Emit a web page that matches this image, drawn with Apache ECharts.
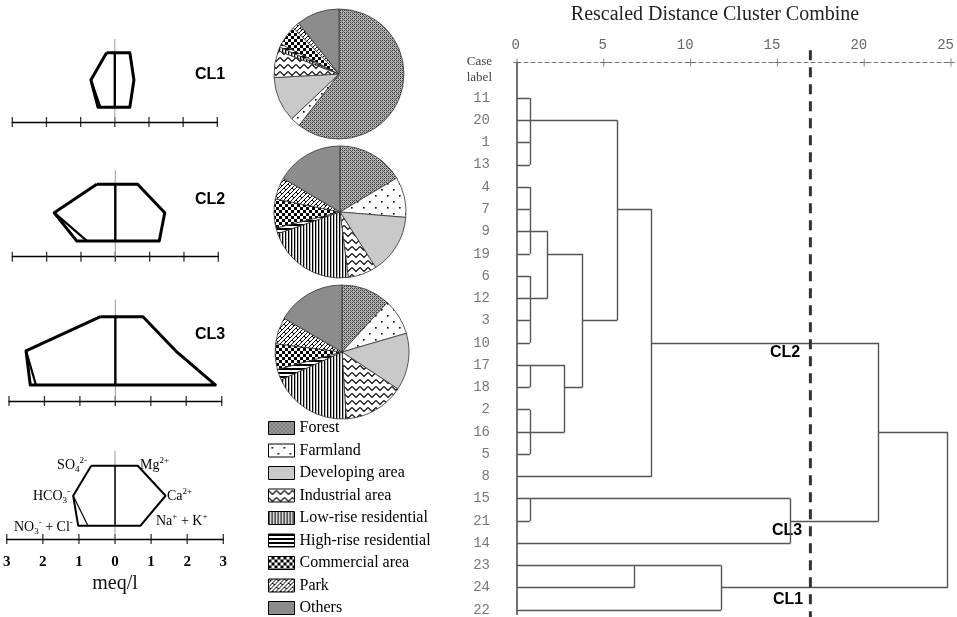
<!DOCTYPE html>
<html><head><meta charset="utf-8">
<script src="https://cdn.jsdelivr.net/npm/echarts@6/dist/echarts.min.js"></script>
<style>html,body{margin:0;padding:0;background:#fff}#c{width:957px;height:617px}</style>
</head><body><div id="c"></div>
<script>
// ---------- DATA ----------
// Stiff diagrams (meq/l): anions [SO4, HCO3, NO3+Cl], cations [Mg, Ca, Na+K], inner = second bottom-left vertex
const cl1Anions = [0.24, 0.70, 0.49];
const cl1Cations = [0.44, 0.56, 0.44];
const cl1Inner = 0.42;
const cl2Anions = [0.54, 1.78, 1.12];
const cl2Cations = [0.65, 1.44, 1.28];
const cl2Inner = 0.82;
const cl3Anions = [0.42, 2.52, 2.40];
const cl3Cations = [0.78, 1.70, 2.82];
const cl3Inner = 2.24;
const keyAnions = [0.66, 1.16, 1.02];
const keyCations = [0.63, 1.40, 0.70];
const keyInner = 0.75;
const meqTicks = [-3, -2, -1, 0, 1, 2, 3];

// Land use shares (%)
const landUse = ['Forest','Farmland','Developing area','Industrial area','Low-rise residential','High-rise residential','Commercial area','Park','Others'];
const cl1Share = [60.6, 2.4, 11.2, 6.7, 1.0, 0.8, 5.0, 1.7, 10.7];
const cl2Share = [16.4, 9.9, 14.6, 7.1, 21.7, 1.4, 7.1, 5.3, 16.5];
const cl3Share = [11.8, 8.7, 13.8, 14.7, 19.2, 2.6, 6.2, 6.4, 16.6];

// Dendrogram
const caseLabels = ['11','20','1','13','4','7','9','19','6','12','3','10','17','18','2','16','5','8','15','21','14','23','24','22'];
// internal nodes numbered 24.. ; children refer to leaf rows (0-23) or internal node ids
const mergeChildren = [[0,1,2,3],[4,5,6,7],[8,9,10,11],[25,26],[12,13],[14,15,16],[28,29],[27,30],[24,31],[32,17],[18,19],[34,20],[33,35],[21,22],[37,23],[36,38]];
const mergeDistance = [0.74, 0.74, 0.74, 1.77, 0.74, 0.74, 2.74, 3.77, 5.76, 7.76, 0.74, 15.75, 20.83, 6.77, 11.76, 24.81];
const mergeRow = [1, 6, 9, 7, 12, 15, 13, 10, 5, 11, 18, 19, 15, 21, 22, null];
const distTicks = [0, 5, 10, 15, 20, 25];
const cutDistance = 16.9;

// ---------- BUILD ----------
function pat(w,h,draw){const c=document.createElement('canvas');c.width=w;c.height=h;const g=c.getContext('2d');g.fillStyle='#fff';g.fillRect(0,0,w,h);draw(g);return {image:c,repeat:'repeat'};}
const fills = [
  pat(4,4,g=>{g.fillStyle='#b4b4b4';g.fillRect(0,0,4,4);g.fillStyle='#3a3a3a';g.fillRect(0,0,1,1);g.fillRect(2,2,1,1);g.fillRect(2,0,1,1);g.fillRect(0,2,1,1);g.fillStyle='#6a6a6a';g.fillRect(1,1,1,1);g.fillRect(3,3,1,1);}),
  pat(12,12,g=>{g.fillStyle='#000';g.fillRect(3,3,1.6,1.6);g.fillRect(9,9,1.6,1.6);}),
  '#c9c9c9',
  pat(8,7,g=>{g.strokeStyle='#000';g.lineWidth=1.1;g.beginPath();g.moveTo(0,1.5);g.lineTo(4,5.5);g.lineTo(8,1.5);g.stroke();}),
  pat(3,1,g=>{g.fillStyle='#000';g.fillRect(0,0,1.3,1);}),
  pat(1,4,g=>{g.fillStyle='#000';g.fillRect(0,0,1,2);}),
  pat(6,6,g=>{g.fillStyle='#000';g.fillRect(0,0,6,6);g.fillStyle='#fff';g.fillRect(0,0,3,3);g.fillRect(3,3,3,3);}),
  pat(8,8,g=>{g.strokeStyle='#000';g.lineWidth=1;g.beginPath();g.moveTo(0,4);g.lineTo(4,0);g.moveTo(0,8);g.lineTo(8,0);g.moveTo(4,8);g.lineTo(8,4);g.moveTo(4,4);g.lineTo(6,6);g.moveTo(0,0);g.lineTo(2,2);g.stroke();}),
  '#8c8c8c'
];

const stiffGrids = [
  {left:12.3, width:205, top:39, height:83, ymin:-0.54, w:3},
  {left:12.3, width:206, top:170.1, height:86.6, ymin:-0.55, w:3},
  {left:9, width:212.7, top:299.6, height:101.4, ymin:-0.47, w:3},
  {left:2.3, width:221, top:450.7, height:88.3, ymin:-0.44, w:2}
];
const stiffData = [[cl1Anions,cl1Cations,cl1Inner],[cl2Anions,cl2Cations,cl2Inner],[cl3Anions,cl3Cations,cl3Inner],[keyAnions,keyCations,keyInner]];

const grid = [], xAxis = [], yAxis = [], series = [];
stiffGrids.forEach((gd,i)=>{
  grid.push({left:gd.left, width:gd.width, top:gd.top, height:gd.height});
  const isKey = i===3;
  xAxis.push({gridIndex:i, type:'value', min:-3, max:3, interval:1,
    axisLine:{onZero:false, lineStyle:{color:'#000', width:1.3}}, axisTick:{show:false}, splitLine:{show:false},
    axisLabel:{show:isKey, formatter:v=>Math.abs(v), margin:16, fontFamily:'Liberation Serif', fontWeight:'bold', fontSize:15, color:'#000'},
    name:isKey?'meq/l':'', nameLocation:'middle', nameGap:35, nameTextStyle:{fontFamily:'Liberation Serif', fontSize:20, color:'#111'}});
  yAxis.push({gridIndex:i, type:'value', min:gd.ymin, max:2.5, show:false});
  const [an,ca,inner] = stiffData[i];
  const poly = [[-an[0],2],[-an[1],1],[-an[2],0],[ca[2],0],[ca[1],1],[ca[0],2],[-an[0],2]];
  const base = {type:'line', xAxisIndex:i, yAxisIndex:i, symbol:'none', silent:true, animation:false};
  series.push(Object.assign({}, base, {data:[[0,2.5],[0,gd.ymin]], lineStyle:{color:'#999', width:1}}));
  series.push(Object.assign({}, base, {data:poly, lineStyle:{color:'#000', width:gd.w, join:'round'}}));
  series.push(Object.assign({}, base, {data:[[-an[1],1],[-inner,0]], lineStyle:{color:'#000', width:gd.w-0.8}}));
  series.push(Object.assign({}, base, {data:[[0,2],[0,0]], lineStyle:{color:'#000', width:gd.w-0.6}}));
  series.push({type:'scatter', xAxisIndex:i, yAxisIndex:i, silent:true, animation:false, symbol:'rect', symbolSize:[1.3,10],
    itemStyle:{color:'#000'}, data:meqTicks.map(t=>[t, gd.ymin])});
});

// Pies
const pieCenters = [[339,74],[340,212],[342,352]];
const pieRadius = [65,66,67];
[cl1Share, cl2Share, cl3Share].forEach((arr,k)=>{
  series.push({type:'pie', center:pieCenters[k], radius:pieRadius[k], startAngle:90, clockwise:true, silent:true, animation:false,
    label:{show:false}, labelLine:{show:false},
    itemStyle:{borderColor:'#333', borderWidth:0.8},
    data: arr.map((v,j)=>({name:landUse[j], value:v, itemStyle:{color:fills[j]}}))});
});

// Dendrogram grid
const DG = 4;
grid.push({left:517, right:2, top:62.4, bottom:2.6});
xAxis.push({gridIndex:DG, type:'value', position:'top', min:0, max:25, interval:5,
  axisLine:{onZero:false, lineStyle:{color:'#777', width:1, type:[4,3]}}, axisTick:{show:false}, splitLine:{show:false},
  axisLabel:{margin:10, align:'right', padding:[0,-3,0,0], fontFamily:'Liberation Mono', fontSize:14, color:'#666'}});
yAxis.push({gridIndex:DG, type:'value', inverse:true, min:-1.6, max:23.2,
  axisLine:{show:true, onZero:false, lineStyle:{color:'#444', width:1.5}}, axisTick:{show:false}, axisLabel:{show:false}, splitLine:{show:false}});

const nodeRow = id => id < caseLabels.length ? id : mergeRow[id - caseLabels.length];
const nodeDist = id => id < caseLabels.length ? 0 : mergeDistance[id - caseLabels.length];
const segs = [];
mergeChildren.forEach((ch,k)=>{
  const d = mergeDistance[k];
  const rows = ch.map(nodeRow);
  segs.push({coords:[[d, Math.min(...rows)],[d, Math.max(...rows)]]});
  ch.forEach(c=>segs.push({coords:[[nodeDist(c), nodeRow(c)],[d, nodeRow(c)]]}));
});
series.push({type:'lines', coordinateSystem:'cartesian2d', xAxisIndex:DG, yAxisIndex:DG, silent:true, animation:false,
  lineStyle:{color:'#555', width:1.4, opacity:1}, data:segs});
series.push({type:'scatter', xAxisIndex:DG, yAxisIndex:DG, silent:true, animation:false, symbolSize:0,
  data:caseLabels.map((l,i)=>[0,i]),
  label:{show:true, position:'left', distance:27, formatter:p=>caseLabels[p.dataIndex], fontFamily:'Liberation Mono', fontSize:14, color:'#555'}});
series.push({type:'scatter', xAxisIndex:DG, yAxisIndex:DG, silent:true, animation:false, clip:false, symbolSize:8,
  symbol:'path://M3.5,0h1v3.5h3.5v1h-3.5v3.5h-1v-3.5h-3.5v-1h3.5z', itemStyle:{color:'#666'},
  data:distTicks.map(t=>[t,-1.6])});
series.push({type:'line', xAxisIndex:DG, yAxisIndex:DG, silent:true, animation:false, clip:false, symbol:'none',
  data:[[cutDistance,-2.15],[cutDistance,23.4]], lineStyle:{color:'#333', width:3, type:[10,7]}});

const serif = 'Liberation Serif';
const rich = {n:{fontFamily:serif, fontSize:14, color:'#222', lineHeight:18, verticalAlign:'middle'},
  sb:{fontFamily:serif, fontSize:9, color:'#222', verticalAlign:'bottom', lineHeight:10},
  sp:{fontFamily:serif, fontSize:9, color:'#222', verticalAlign:'top', lineHeight:10}};
function rt(x,y,text,align){return {type:'text', x:x, y:y, silent:true, style:{text:text, rich:rich, align:align, verticalAlign:'middle'}};}
function bold(x,y,t){return {type:'text', x:x, y:y, silent:true, style:{text:t, fontFamily:'Liberation Sans', fontWeight:'bold', fontSize:16, fill:'#000', verticalAlign:'middle'}};}

const graphic = [
  {type:'text', x:715, y:15, silent:true, style:{text:'Rescaled Distance Cluster Combine', fontFamily:serif, fontSize:20, fill:'#222', align:'center', verticalAlign:'middle'}},
  {type:'text', x:492, y:62, silent:true, style:{text:'Case', fontFamily:serif, fontSize:13, fill:'#444', align:'right', verticalAlign:'middle'}},
  {type:'text', x:492, y:78, silent:true, style:{text:'label', fontFamily:serif, fontSize:13, fill:'#444', align:'right', verticalAlign:'middle'}},
  bold(195,75,'CL1'), bold(195,200,'CL2'), bold(195,335,'CL3'),
  bold(770,353,'CL2'), bold(772,531,'CL3'), bold(773,600,'CL1'),
  rt(87,465,'{n|SO}{sb|4}{sp|2-}','right'),
  rt(70,496,'{n|HCO}{sb|3}{sp|-}','right'),
  rt(14,527,'{n|NO}{sb|3}{sp|-}{n| + Cl}{sp|-}','left'),
  rt(140,465,'{n|Mg}{sp|2+}','left'),
  rt(167,496,'{n|Ca}{sp|2+}','left'),
  rt(156,521,'{n|Na}{sp|+}{n| + K}{sp|+}','left')
];

const chart = echarts.init(document.getElementById('c'), null, {renderer:'canvas'});
chart.setOption({
  animation:false,
  backgroundColor:'#fff',
  grid, xAxis, yAxis, series, graphic,
  legend:{data:landUse, orient:'vertical', left:268, top:420, height:200, padding:0, itemWidth:26, itemHeight:13, itemGap:6.5,
    icon:'rect', selectedMode:false,
    itemStyle:{borderColor:'#000', borderWidth:1},
    textStyle:{fontFamily:serif, fontSize:16, color:'#000'}}
});
</script></body></html>
